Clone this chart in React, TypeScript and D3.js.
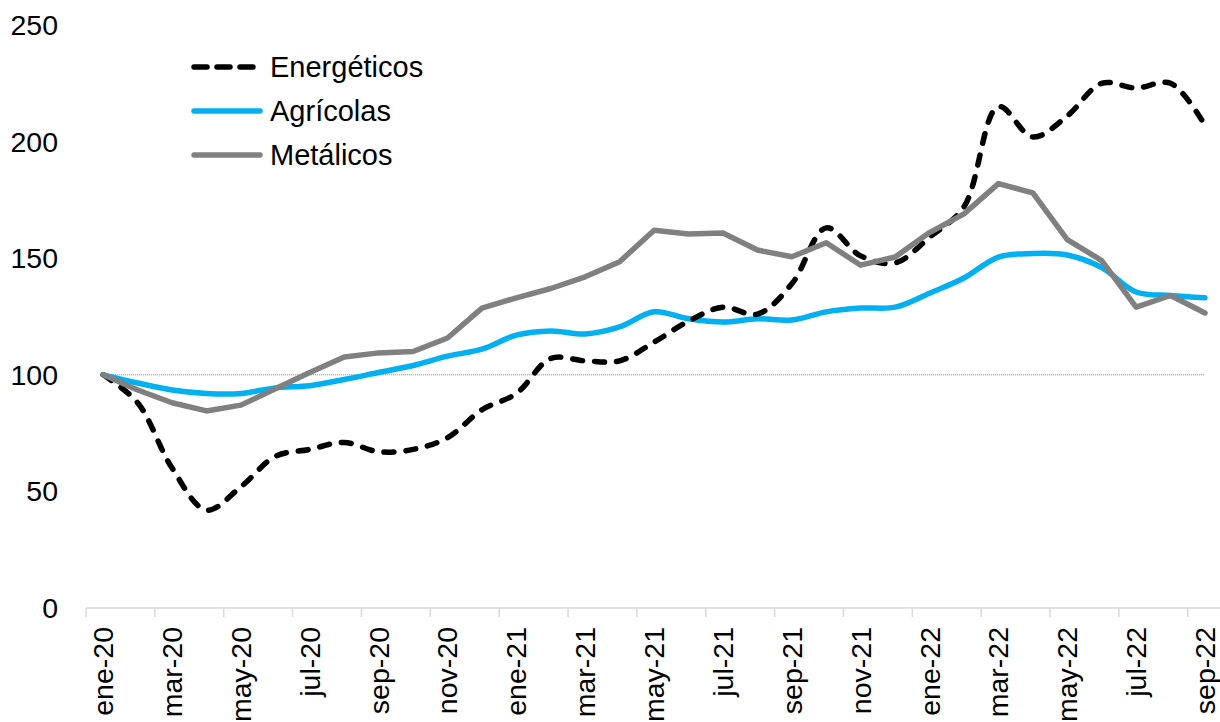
import React, { useEffect, useRef } from 'react';
import * as d3 from 'd3';

// months ene-20 .. sep-22
const months = [
  'ene-20', 'feb-20', 'mar-20', 'abr-20', 'may-20', 'jun-20', 'jul-20', 'ago-20', 'sep-20', 'oct-20', 'nov-20', 'dic-20',
  'ene-21', 'feb-21', 'mar-21', 'abr-21', 'may-21', 'jun-21', 'jul-21', 'ago-21', 'sep-21', 'oct-21', 'nov-21', 'dic-21',
  'ene-22', 'feb-22', 'mar-22', 'abr-22', 'may-22', 'jun-22', 'jul-22', 'ago-22', 'sep-22',
];

const energeticos = [
  100, 88, 60, 42, 52, 65, 68, 71, 67, 68, 73, 85,
  92, 107, 106, 106, 114, 123, 129, 126, 139, 163, 151, 148,
  159, 172, 215, 202, 211, 225, 223, 225, 207,
];

const agricolas = [
  100, 96.5, 93.5, 92, 92, 94.4, 95.3, 98, 101, 104, 108, 111,
  117, 118.8, 117.5, 120.5, 127, 124, 122.6, 124, 123.5, 127, 128.6, 129,
  135, 141.5, 150.5, 152, 151.4, 146, 135.5, 134, 133,
];

const metalicos = [
  100, 93.5, 88, 84.5, 87, 94, 101, 107.6, 109.4, 110, 115.8, 128.6,
  133, 137, 142, 148.5, 162, 160.4, 160.8, 153.5, 150.6, 156.6, 147, 150.5,
  161, 169, 182, 178, 158, 149, 129, 134, 126.5,
];

const yTicks = [0, 50, 100, 150, 200, 250];

const series = [
  { name: 'Energéticos', values: energeticos, color: '#000000', dash: '10 12', smooth: true },
  { name: 'Agrícolas', values: agricolas, color: '#00B0F0', dash: null, smooth: true },
  { name: 'Metálicos', values: metalicos, color: '#808080', dash: null, smooth: false },
];

export default function App() {
  const ref = useRef<SVGSVGElement>(null);

  useEffect(() => {
    const svg = d3.select(ref.current);
    svg.selectAll('*').remove();

    const font = 'Liberation Sans, Arial, sans-serif';
    const left = 86;
    const bw = 34.43;

    const x = d3.scaleBand<string>()
      .domain(months)
      .range([left, left + months.length * bw])
      .padding(0);

    const y = d3.scaleLinear().domain([0, 250]).range([608, 25]);

    const cx = (m: string) => (x(m) as number) + x.bandwidth() / 2;

    // y labels
    svg.append('g')
      .selectAll('text')
      .data(yTicks)
      .join('text')
      .attr('x', 58)
      .attr('y', d => y(d))
      .attr('dy', '0.35em')
      .attr('text-anchor', 'end')
      .attr('font-family', font)
      .attr('font-size', 28.5)
      .attr('fill', '#000')
      .text(d => d);

    // x axis line
    svg.append('line')
      .attr('x1', left)
      .attr('x2', left + months.length * bw)
      .attr('y1', y(0))
      .attr('y2', y(0))
      .attr('stroke', '#d9d9d9')
      .attr('stroke-width', 1.5);

    const tickMonths = months.filter((_, i) => i % 2 === 0);

    svg.append('g')
      .selectAll('line')
      .data(tickMonths)
      .join('line')
      .attr('x1', d => x(d) as number)
      .attr('x2', d => x(d) as number)
      .attr('y1', y(0))
      .attr('y2', y(0) + 9)
      .attr('stroke', '#d9d9d9')
      .attr('stroke-width', 1.5);

    svg.append('g')
      .selectAll('text')
      .data(tickMonths)
      .join('text')
      .attr('transform', d => `translate(${cx(d)},${627}) rotate(-90)`)
      .attr('dy', '0.35em')
      .attr('text-anchor', 'end')
      .attr('font-family', font)
      .attr('font-size', 28.5)
      .attr('fill', '#000')
      .text(d => d);

    // reference line at 100
    svg.append('line')
      .attr('x1', cx(months[0]))
      .attr('x2', cx(months[months.length - 1]))
      .attr('y1', y(100))
      .attr('y2', y(100))
      .attr('stroke', '#7f7f7f')
      .attr('stroke-width', 1)
      .attr('stroke-dasharray', '1 1');

    const drawOrder = [series[1], series[0], series[2]];
    drawOrder.forEach(s => {
      const line = d3.line<number>()
        .x((_, i) => cx(months[i]))
        .y(d => y(d))
        .curve(s.smooth ? d3.curveCatmullRom.alpha(0.5) : d3.curveLinear);
      svg.append('path')
        .datum(s.values)
        .attr('fill', 'none')
        .attr('stroke', s.color)
        .attr('stroke-width', 5.5)
        .attr('stroke-linecap', 'round')
        .attr('stroke-linejoin', 'round')
        .attr('stroke-dasharray', s.dash)
        .attr('d', line);
    });

    // legend
    const legend = svg.append('g');
    series.forEach((s, i) => {
      const ly = 67 + i * 44;
      legend.append('line')
        .attr('x1', 194)
        .attr('x2', 260)
        .attr('y1', ly)
        .attr('y2', ly)
        .attr('stroke', s.color)
        .attr('stroke-width', 5.5)
        .attr('stroke-linecap', 'round')
        .attr('stroke-dasharray', s.dash ? '13 10' : null);
      legend.append('text')
        .attr('x', 270)
        .attr('y', ly)
        .attr('dy', '0.35em')
        .attr('font-family', font)
        .attr('font-size', 29)
        .attr('fill', '#000')
        .text(s.name);
    });
  }, []);

  return (
    <svg
      ref={ref}
      width={1220}
      height={722}
      style={{ position: 'absolute', left: 0, top: 0, background: '#fff' }}
    />
  );
}
